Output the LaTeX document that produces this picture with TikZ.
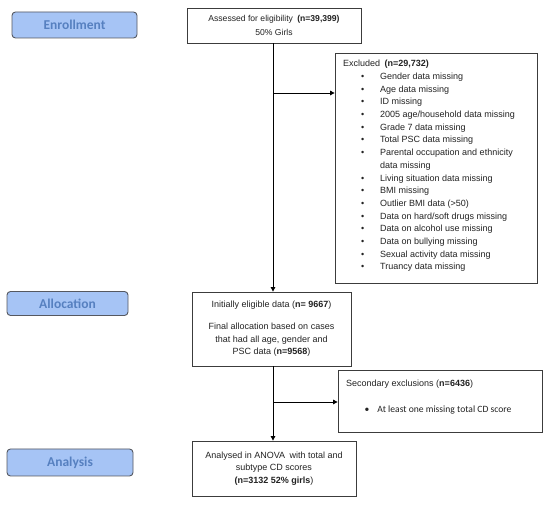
\documentclass[tikz,border=0pt]{standalone}
\usepackage{fontspec}
\setmainfont{Liberation Sans}
\newfontfamily\carlito{Carlito}
\usetikzlibrary{arrows.meta}
\definecolor{lblfill}{RGB}{166,196,245}
\definecolor{lbltext}{RGB}{86,128,192}
\definecolor{lbldraw}{RGB}{85,88,96}
\definecolor{boxdraw}{RGB}{60,60,60}
\definecolor{txt}{RGB}{35,35,35}
\newcommand\itm[1]{\makebox[37pt][l]{\hspace{18pt}\textbullet}#1}
\tikzset{
  lbl/.style={draw=lbldraw, line width=0.9pt, fill=lblfill, rounded corners=3.5pt,
    text=lbltext, font=\carlito\bfseries\fontsize{13.5}{15}\selectfont, inner sep=0pt},
  flowbox/.style={draw=boxdraw, line width=0.8pt, fill=white, inner sep=0pt, align=center,
    text=txt, font=\fontsize{9}{12.5}\selectfont},
  plain/.style={inner sep=0pt, text=txt, align=left, font=\fontsize{9}{12.7}\selectfont},
  arr/.style={draw=black, line width=0.9pt, -{Triangle[length=4.5pt,width=4.5pt]}},
  ln/.style={draw=black, line width=0.9pt}
}
\begin{document}
\begin{tikzpicture}[x=1pt,y=-1pt]
\useasboundingbox[fill=white] (0,0) rectangle (550,505);
% stage labels
\node[lbl, minimum width=125pt, minimum height=26pt] (enroll) at (74.5,25) {Enrollment};
\node[lbl, minimum width=121pt, minimum height=24pt] (alloclbl) at (67.5,303.5) {Allocation};
\node[lbl, minimum width=126pt, minimum height=27pt] (anallbl) at (70,462.5) {Analysis};
% main boxes
\node[flowbox, minimum width=174pt, minimum height=35pt, font=\fontsize{8.6}{14}\selectfont] (assess) at (274,25.5)
  {Assessed for eligibility\enspace\textbf{(n=39,399)}\\50\% Girls};
\node[draw=boxdraw, line width=0.8pt, minimum width=202pt, minimum height=230pt, inner sep=0pt] (excl) at (436,168) {};
\node[plain, anchor=north west] (excltxt) at (343,60) {%
Excluded\enspace\textbf{(n=29,732)}\\
\itm{Gender data missing}\\
\itm{Age data missing}\\
\itm{ID missing}\\
\itm{2005 age/household data missing}\\
\itm{Grade 7 data missing}\\
\itm{Total PSC data missing}\\
\itm{Parental occupation and ethnicity}\\
\hspace*{37pt}data missing\\
\itm{Living situation data missing}\\
\itm{BMI missing}\\
\itm{Outlier BMI data (>50)}\\
\itm{Data on hard/soft drugs missing}\\
\itm{Data on alcohol use missing}\\
\itm{Data on bullying missing}\\
\itm{Sexual activity data missing}\\
\itm{Truancy data missing}};
\node[flowbox, minimum width=159pt, minimum height=74pt] (alloc) at (271.5,329) {};
\node[plain, align=center, font=\fontsize{9}{12.5}\selectfont] (alloctxt) at (271.5,328.5)
  {Initially eligible data (\textbf{n= 9667})\\[10pt]
   Final allocation based on cases\\that had all age, gender and\\PSC data (\textbf{n=9568})};
\node[draw=boxdraw, line width=0.8pt, minimum width=204pt, minimum height=62pt, inner sep=0pt] (sec) at (440,401) {};
\node[plain, anchor=west] (sectxt) at (346,384) {Secondary exclusions (\textbf{n=6436})};
\node[plain, anchor=west, font=\carlito\fontsize{9.6}{11}\selectfont] (secitem) at (364.5,409.5)
  {\textbullet\hspace{8pt}At least one missing total CD score};
\node[flowbox, minimum width=164pt, minimum height=55pt] (anal) at (274,468.5)
  {Analysed in ANOVA\enspace with total and\\subtype CD scores\\\textbf{(n=3132 52\% girls})};
% connectors
\coordinate (b1) at (273,93);
\coordinate (b2) at (273,402);
\draw[arr] (assess.south -| b1) -- (alloc.north -| b1);
\draw[arr] (b1) -- (b1 -| excl.west);
\draw[arr] (alloc.south -| b2) -- (anal.north -| b2);
\draw[arr] (b2) -- (b2 -| sec.west);
\end{tikzpicture}
\end{document}
